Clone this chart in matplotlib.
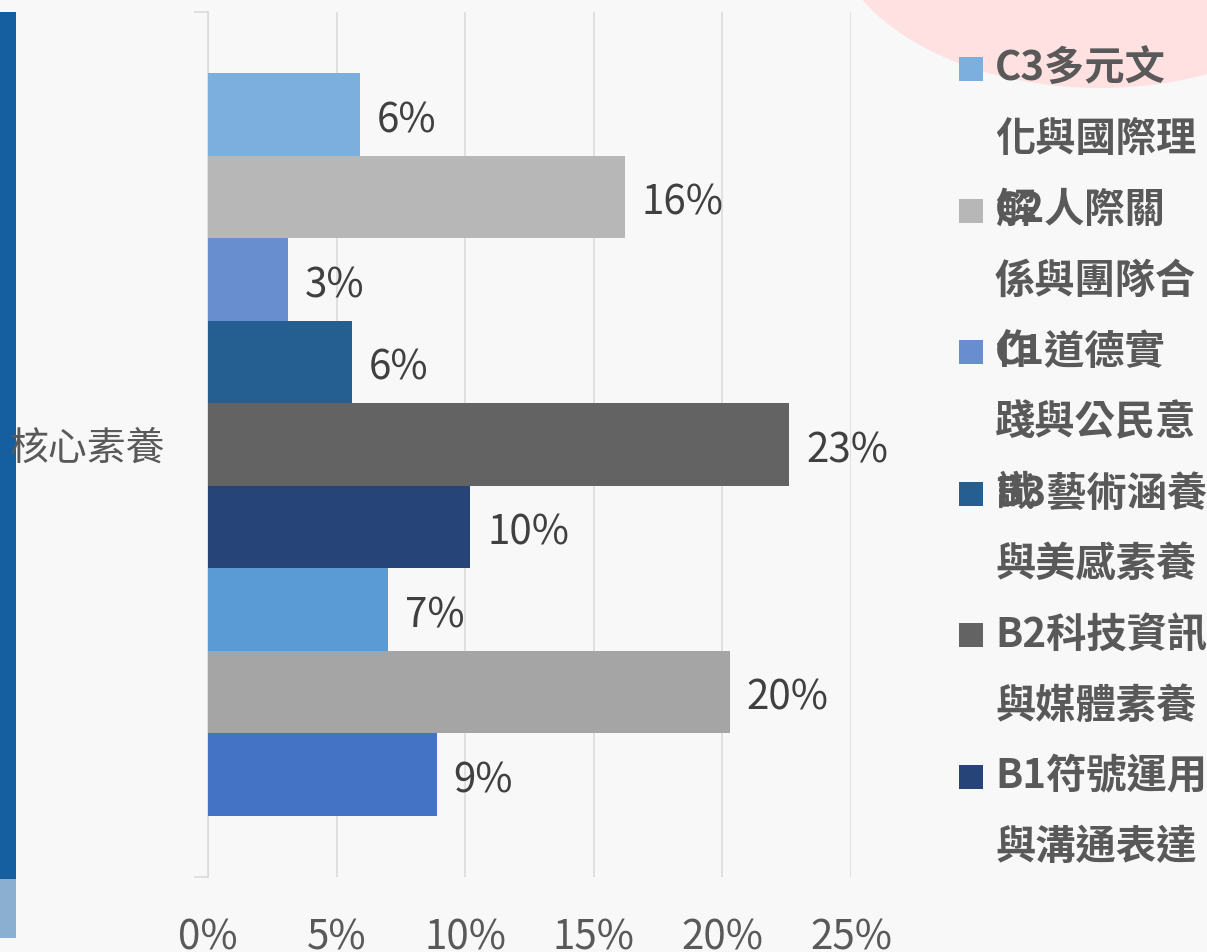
import numpy as np
import matplotlib
matplotlib.use("Agg")
import matplotlib.pyplot as plt
from matplotlib.patches import Ellipse, Rectangle

plt.rcParams['font.family'] = ['Noto Sans CJK TC', 'DejaVu Sans']

# data (percent), bottom bar first
category = "核心素養"
series = ["A1身心素質與自我精進", "A2系統思考與解決問題", "A3規劃執行與創新應變",
          "B1符號運用與溝通表達", "B2科技資訊與媒體素養", "B3藝術涵養與美感素養",
          "C1道德實踐與公民意識", "C2人際關係與團隊合作", "C3多元文化與國際理解"]
values = [8.9, 20.3, 7.0, 10.2, 22.6, 5.6, 3.1, 16.2, 5.9]
colors = ["#4472C4", "#A5A5A5", "#5B9BD5",
          "#264478", "#636363", "#255E91",
          "#698ED0", "#B7B7B7", "#7CAFDD"]
# legend text as wrapped in the original; only the C and B entries are visible
legend_wrap = [None, None, None,
               ["B1符號運用", "與溝通表達"],
               ["B2科技資訊", "與媒體素養"],
               ["B3藝術涵養", "與美感素養"],
               ["C1道德實", "踐與公民意", "識"],
               ["C2人際關", "係與團隊合", "作"],
               ["C3多元文", "化與國際理", "解"]]
xticks = [0, 5, 10, 15, 20, 25]

W, H = 1207, 952
fig = plt.figure(figsize=(W / 100, H / 100), dpi=100, facecolor="#F8F8F8")

# background layer in pixel coordinates
bg = fig.add_axes([0, 0, 1, 1], zorder=0)
bg.set_xlim(0, W)
bg.set_ylim(H, 0)
bg.axis("off")
bg.add_patch(Ellipse((1100, -80), 540, 336, color="#FFE1E1", lw=0))
bg.add_patch(Rectangle((0, 12), 16, 867, color="#155FA0", lw=0))
bg.add_patch(Rectangle((0, 879), 16, 59, color="#8AAFD1", lw=0))

ax = fig.add_axes([208 / W, 75 / H, 643 / W, 865 / H], zorder=1)
ax.set_facecolor("none")

n = len(values)
bar_h = 0.859 / n
ypos = (np.arange(n) - (n - 1) / 2) * bar_h
ax.barh(ypos, values, height=bar_h, color=colors, zorder=3)
for y, v in zip(ypos, values):
    ax.annotate(f"{round(v)}%", (v, y), xytext=(12, -4.5), textcoords="offset points",
                va="center", ha="left", fontsize=29, fontweight="medium", color="#404040")

ax.set_xlim(0, 25)
ax.set_ylim(-0.5, 0.5)
ax.set_xticks(xticks)
ax.set_xticklabels([f"{t}%" for t in xticks], fontsize=29, fontweight="medium", color="#595959")
ax.set_yticks([0])
ax.set_yticklabels([category], fontsize=28, fontweight="medium", color="#595959")
ax.set_yticks([-0.5, 0.5], minor=True)
ax.tick_params(axis="x", length=0, pad=29)
ax.tick_params(axis="y", which="major", length=0, pad=31)
ax.tick_params(axis="y", which="minor", length=10, width=1.1, color="#D9D9D9")
ax.xaxis.grid(True, color="#D9D9D9", lw=1.1, zorder=0)
ax.set_axisbelow(True)
for s in ["top", "right", "bottom"]:
    ax.spines[s].set_visible(False)
ax.spines["left"].set_color("#D9D9D9")
ax.spines["left"].set_linewidth(1.1)

# legend, drawn line by line so the overflowing third lines overlap like the original
row0, row_step, line_step = 69, 141.6, 70.6
k = 0
for i in range(n - 1, -1, -1):
    lines = legend_wrap[i]
    if lines is None:
        continue
    y0 = row0 + k * row_step
    bg.add_patch(Rectangle((959, y0 - 12), 24, 24, color=colors[i], lw=0))
    for j, line in enumerate(lines):
        bg.text(995, y0 + j * line_step, line, fontsize=29, fontweight="bold",
                color="#595959", va="center", ha="left")
    k += 1

fig.savefig("out.png", dpi=100, facecolor=fig.get_facecolor())
